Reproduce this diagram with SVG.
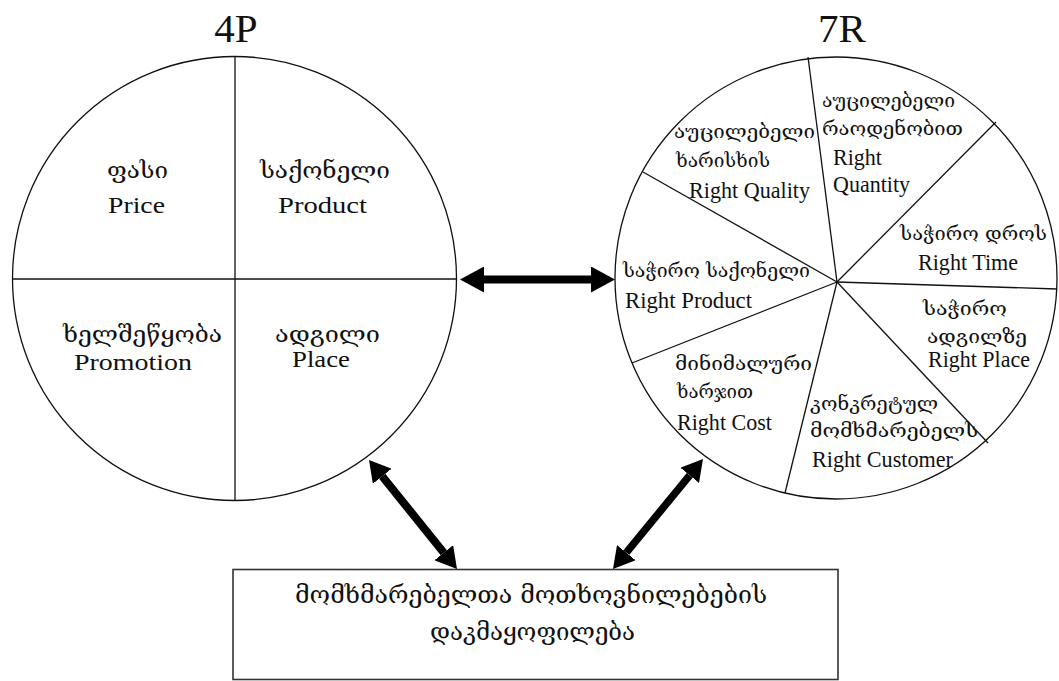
<svg xmlns="http://www.w3.org/2000/svg" width="1059" height="681" viewBox="0 0 1059 681">
<style>
.ln{fill:none;stroke:#111;stroke-width:1.3}
.ttl{font-family:"Liberation Serif","Times New Roman",serif;font-size:41px;fill:#111;text-anchor:middle}
.la{font-family:"Liberation Serif","Times New Roman",serif;font-size:23px;fill:#111}
.ra{font-family:"Liberation Serif","Times New Roman",serif;font-size:23px;fill:#111}
.ge{font-family:"DejaVu Serif","DejaVu Sans",serif;fill:#111}
.gl{font-size:23px}
.gr{font-size:18px}
.gb{font-size:24px}
.arr{stroke:#000;fill:none}
</style>
<defs>
<marker id="hBig" markerUnits="userSpaceOnUse" markerWidth="24" markerHeight="26" refX="0" refY="13" orient="auto-start-reverse" viewBox="0 0 24 26">
<path d="M0,0 L24,13 L0,26 Z" fill="#000"/>
</marker>
<marker id="hSm" markerUnits="userSpaceOnUse" markerWidth="21" markerHeight="24" refX="0" refY="12" orient="auto-start-reverse" viewBox="0 0 21 24">
<path d="M0,0 L21,12 L0,24 Z" fill="#000"/>
</marker>
</defs>
<rect width="1059" height="681" fill="#fff"/>

<g id="node-4p">
<text class="ttl" x="236" y="42">4P</text>
<circle class="ln" cx="234.5" cy="278.5" r="222"/>
<line class="ln" x1="235" y1="56.5" x2="235" y2="500.5"/>
<line class="ln" x1="12.5" y1="279" x2="456.5" y2="279"/>
<text class="ge gl" x="107" y="178" textLength="61" lengthAdjust="spacingAndGlyphs">ფასი</text>
<text class="la" x="108" y="213" textLength="57" lengthAdjust="spacingAndGlyphs">Price</text>
<text class="ge gl" x="260" y="178" textLength="130" lengthAdjust="spacingAndGlyphs">საქონელი</text>
<text class="la" x="278" y="213" textLength="89" lengthAdjust="spacingAndGlyphs">Product</text>
<text class="ge gl" x="63" y="342" textLength="159" lengthAdjust="spacingAndGlyphs">ხელშეწყობა</text>
<text class="la" x="74" y="370" textLength="118" lengthAdjust="spacingAndGlyphs">Promotion</text>
<text class="ge gl" x="275" y="342" textLength="105" lengthAdjust="spacingAndGlyphs">ადგილი</text>
<text class="la" x="292" y="367" textLength="58" lengthAdjust="spacingAndGlyphs">Place</text>
</g>

<g id="node-7r">
<text class="ttl" x="842" y="42">7R</text>
<circle class="ln" cx="836" cy="278" r="221"/>
<line class="ln" x1="837" y1="282" x2="808" y2="57"/>
<line class="ln" x1="837" y1="282" x2="643" y2="172"/>
<line class="ln" x1="837" y1="282" x2="996" y2="122"/>
<line class="ln" x1="837" y1="282" x2="1057" y2="289"/>
<line class="ln" x1="837" y1="282" x2="988" y2="443"/>
<line class="ln" x1="837" y1="282" x2="785" y2="493"/>
<line class="ln" x1="837" y1="282" x2="632" y2="363"/>
<text class="ge gr" x="674" y="138" textLength="141" lengthAdjust="spacingAndGlyphs">აუცილებელი</text>
<text class="ge gr" x="676" y="167" textLength="94" lengthAdjust="spacingAndGlyphs">ხარისხის</text>
<text class="ra" x="689" y="198" textLength="121" lengthAdjust="spacingAndGlyphs">Right Quality</text>
<text class="ge gr" x="822" y="107" textLength="133" lengthAdjust="spacingAndGlyphs">აუცილებელი</text>
<text class="ge gr" x="822" y="135" textLength="141" lengthAdjust="spacingAndGlyphs">რაოდენობით</text>
<text class="ra" x="833" y="165" textLength="49" lengthAdjust="spacingAndGlyphs">Right</text>
<text class="ra" x="833" y="192" textLength="77" lengthAdjust="spacingAndGlyphs">Quantity</text>
<text class="ge gr" x="900" y="240" textLength="147" lengthAdjust="spacingAndGlyphs">საჭირო დროს</text>
<text class="ra" x="918" y="270" textLength="100" lengthAdjust="spacingAndGlyphs">Right Time</text>
<text class="ge gr" x="623" y="277" textLength="187" lengthAdjust="spacingAndGlyphs">საჭირო საქონელი</text>
<text class="ra" x="625" y="308" textLength="127" lengthAdjust="spacingAndGlyphs">Right Product</text>
<text class="ge gr" x="923" y="315" textLength="84" lengthAdjust="spacingAndGlyphs">საჭირო</text>
<text class="ge gr" x="927" y="343" textLength="100" lengthAdjust="spacingAndGlyphs">ადგილზე</text>
<text class="ra" x="928" y="367" textLength="102" lengthAdjust="spacingAndGlyphs">Right Place</text>
<text class="ge gr" x="675" y="370" textLength="137" lengthAdjust="spacingAndGlyphs">მინიმალური</text>
<text class="ge gr" x="677" y="398" textLength="76" lengthAdjust="spacingAndGlyphs">ხარჯით</text>
<text class="ra" x="677" y="430" textLength="95" lengthAdjust="spacingAndGlyphs">Right Cost</text>
<text class="ge gr" x="810" y="410" textLength="128" lengthAdjust="spacingAndGlyphs">კონკრეტულ</text>
<text class="ge gr" x="810" y="437" textLength="168" lengthAdjust="spacingAndGlyphs">მომხმარებელს</text>
<text class="ra" x="812" y="467" textLength="141" lengthAdjust="spacingAndGlyphs">Right Customer</text>
</g>

<g id="node-needs">
<rect x="233" y="569.5" width="605" height="110" fill="none" stroke="#333" stroke-width="1.6"/>
<text class="ge gb" x="295" y="603" textLength="472" lengthAdjust="spacingAndGlyphs">მომხმარებელთა მოთხოვნილებების</text>
<text class="ge gb" x="430" y="640" textLength="205" lengthAdjust="spacingAndGlyphs">დაკმაყოფილება</text>
</g>

<g id="connectors">
<line class="arr" stroke-width="8" x1="484" y1="279.5" x2="591" y2="279.5" marker-start="url(#hBig)" marker-end="url(#hBig)"/>
<line class="arr" stroke-width="8" x1="382.2" y1="476.3" x2="443.8" y2="552.7" marker-start="url(#hSm)" marker-end="url(#hSm)"/>
<line class="arr" stroke-width="7.5" x1="689.7" y1="475.3" x2="626.3" y2="552.7" marker-start="url(#hSm)" marker-end="url(#hSm)"/>
</g>
</svg>
